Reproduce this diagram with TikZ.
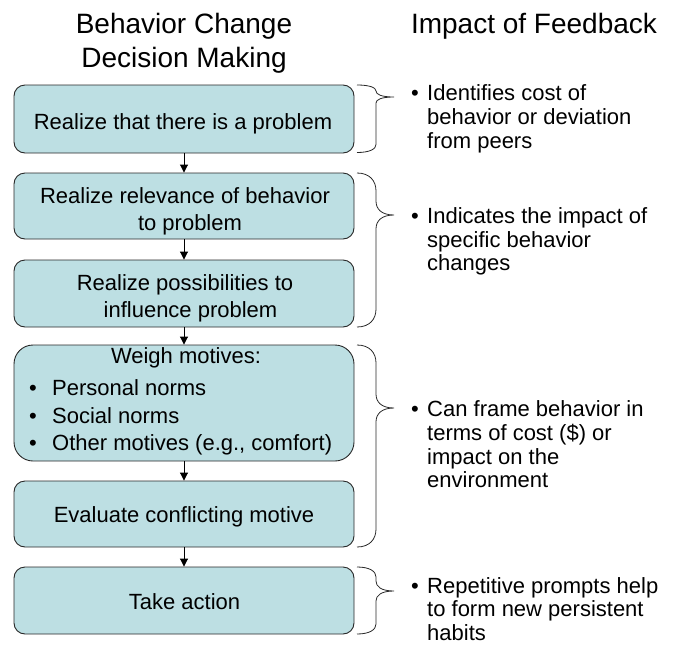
\documentclass[tikz,border=0pt]{standalone}
\usepackage{fontspec}
\setmainfont{Liberation Sans}
\usetikzlibrary{arrows.meta}
\definecolor{boxfill}{RGB}{189,223,227}
\definecolor{boxline}{RGB}{40,40,40}
\newcommand\mybrace[7]{%
  \draw[bracestyle] (357,#1) .. controls (370,#1) and (376,#1+0.45*#4) .. (376,#1+#4)
    -- (376,#2-#5) .. controls (376,#2-0.45*#5) and (381,#2) .. (394,#2)
    .. controls (381,#2) and (376,#2+0.45*#6) .. (376,#2+#6)
    -- (376,#3-#7) .. controls (376,#3-0.45*#7) and (370,#3) .. (357,#3);}
\begin{document}
\begin{tikzpicture}[x=1pt,y=-1pt,
  stepbox/.style={draw=boxline, line width=0.9pt, fill=boxfill, minimum width=340pt, inner sep=0pt},
  boxtext/.style={anchor=base, inner sep=0pt, font=\fontsize{22}{27}\selectfont},
  boxtextl/.style={anchor=base west, inner sep=0pt, font=\fontsize{22}{27}\selectfont},
  sidetext/.style={anchor=base west, inner sep=0pt, font=\fontsize{22}{24}\selectfont},
  titletext/.style={anchor=base, inner sep=0pt, font=\fontsize{28}{34}\selectfont},
  flow/.style={draw=black, line width=0.9pt, -{Triangle[width=8pt,length=8pt]}},
  bracestyle/.style={draw=boxline, line width=0.8pt}]
\useasboundingbox (0,0) rectangle (678,651);
% titles
\node[titletext] (t1) at (184,33) {Behavior Change};
\node[titletext] (t2) at (184,67) {Decision Making};
\node[titletext] (t3) at (534,33) {Impact of Feedback};
% boxes
\node[stepbox, minimum height=68pt, rounded corners=11pt] (b1) at (184,119) {};
\node[stepbox, minimum height=66pt, rounded corners=11pt] (b2) at (184,206) {};
\node[stepbox, minimum height=67pt, rounded corners=11pt] (b3) at (184,293.5) {};
\node[stepbox, minimum height=116pt, rounded corners=19pt] (b4) at (184,403) {};
\node[stepbox, minimum height=66pt, rounded corners=11pt] (b5) at (184,514) {};
\node[stepbox, minimum height=67pt, rounded corners=11pt] (b6) at (184,600.5) {};
% box texts
\node[boxtext] (x1) at (183,129) {Realize that there is a problem};
\node[boxtext] (x2a) at (185,203) {Realize relevance of behavior};
\node[boxtext] (x2b) at (190,230) {to problem};
\node[boxtext] (x3a) at (185,290) {Realize possibilities to};
\node[boxtext] (x3b) at (190.5,317) {influence problem};
\node[boxtext] (x4a) at (186,363) {Weigh motives:};
\node[boxtextl] (x4b1) at (29,395) {•};
\node[boxtextl] (x4b) at (52,395) {Personal norms};
\node[boxtextl] (x4c1) at (29,423) {•};
\node[boxtextl] (x4c) at (52,423) {Social norms};
\node[boxtextl] (x4d1) at (29,450) {•};
\node[boxtextl] (x4d) at (52,450) {Other motives (e.g., comfort)};
\node[boxtext] (x5) at (184,522) {Evaluate conflicting motive};
\node[boxtext] (x6) at (184.5,609) {Take action};
% arrows
\draw[flow] (b1.south) -- (b2.north);
\draw[flow] (b2.south) -- (b3.north);
\draw[flow] (b3.south) -- (b4.north);
\draw[flow] (b4.south) -- (b5.north);
\draw[flow] (b5.south) -- (b6.north);
% braces
\mybrace{85}{97}{152.5}{6}{6}{6}{8}
\mybrace{173}{215}{327}{18}{14}{14}{18}
\mybrace{345}{408}{547}{18}{14}{14}{18}
\mybrace{567}{591}{634}{10}{10}{10}{10}
% side texts
\node[sidetext] (s1b) at (411,100.7) {•};
\node[sidetext] (s1) at (427,100.7) {Identifies cost of};
\node[sidetext] (s1l2) at (427,124.5) {behavior or deviation};
\node[sidetext] (s1l3) at (427,148.3) {from peers};
\node[sidetext] (s2b) at (411,223.3) {•};
\node[sidetext] (s2) at (427,223.3) {Indicates the impact of};
\node[sidetext] (s2l2) at (427,247) {specific behavior};
\node[sidetext] (s2l3) at (427,270.7) {changes};
\node[sidetext] (s3b) at (411,416.7) {•};
\node[sidetext] (s3) at (427,416.7) {Can frame behavior in};
\node[sidetext] (s3l2) at (427,440.4) {terms of cost (\$) or};
\node[sidetext] (s3l3) at (427,464.1) {impact on the};
\node[sidetext] (s3l4) at (427,487.8) {environment};
\node[sidetext] (s4b) at (411,593.3) {•};
\node[sidetext] (s4) at (427,593.3) {Repetitive prompts help};
\node[sidetext] (s4l2) at (427,616.7) {to form new persistent};
\node[sidetext] (s4l3) at (427,640.1) {habits};
\end{tikzpicture}
\end{document}
